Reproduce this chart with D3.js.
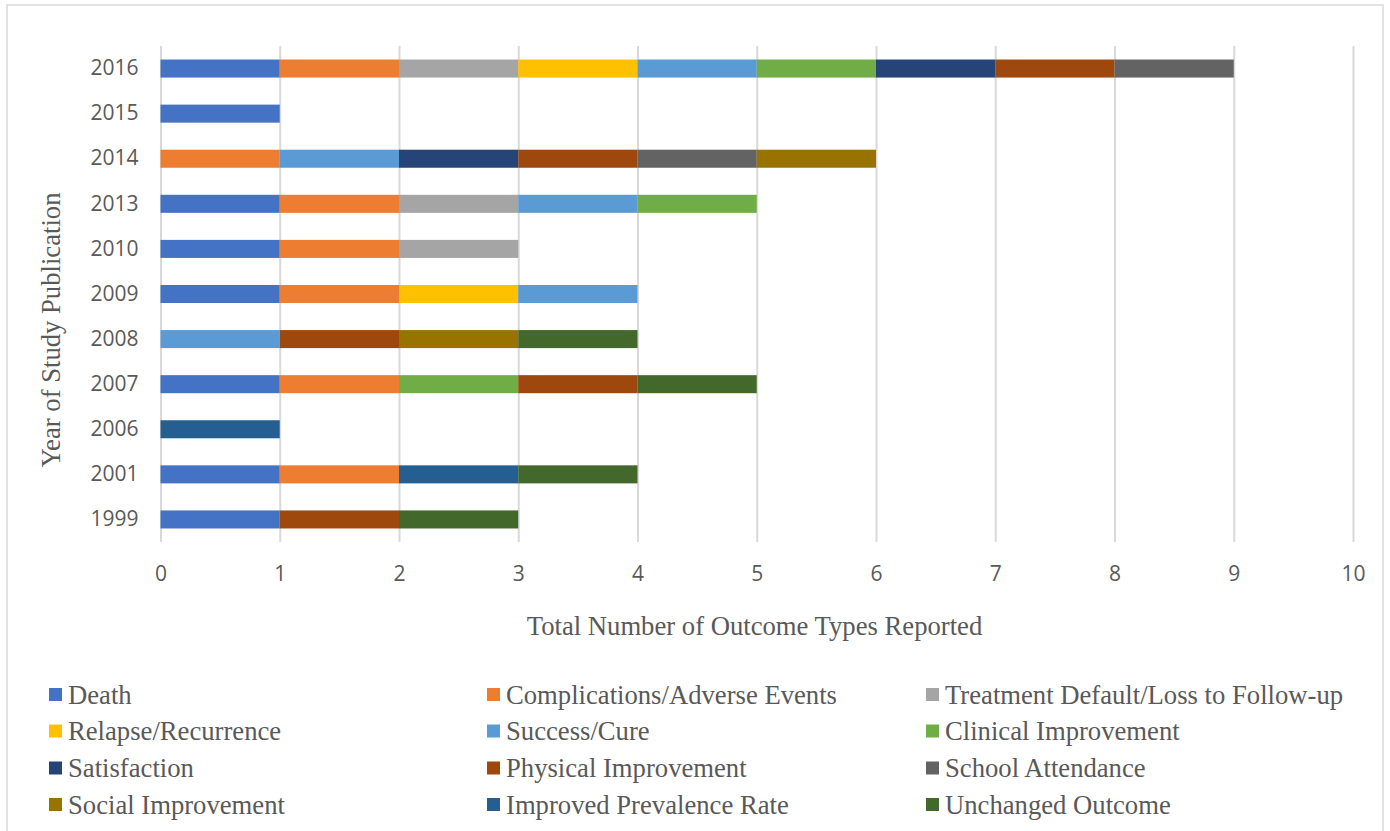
<!DOCTYPE html>
<html>
<head>
<meta charset="utf-8">
<script src="https://cdn.jsdelivr.net/npm/d3@7"></script>
<style>
  html, body { margin: 0; padding: 0; background: #fff; }
  svg { display: block; }
</style>
</head>
<body>
<svg id="chart" width="1390" height="831"></svg>
<script>
// ---- data ----
const years = ["2016", "2015", "2014", "2013", "2010", "2009", "2008", "2007", "2006", "2001", "1999"];
const seriesNames = [
  "Death", "Complications/Adverse Events", "Treatment Default/Loss to Follow-up",
  "Relapse/Recurrence", "Success/Cure", "Clinical Improvement",
  "Satisfaction", "Physical Improvement", "School Attendance",
  "Social Improvement", "Improved Prevalence Rate", "Unchanged Outcome"
];
const seriesColors = ["#4472C4", "#ED7D31", "#A5A5A5", "#FFC000", "#5B9BD5", "#70AD47",
                      "#264478", "#9E480E", "#636363", "#997300", "#255E91", "#43682B"];
//                     2016 2015 2014 2013 2010 2009 2008 2007 2006 2001 1999
const death         = [1, 1, 0, 1, 1, 1, 0, 1, 0, 1, 1];
const complications = [1, 0, 1, 1, 1, 1, 0, 1, 0, 1, 0];
const treatDefault  = [1, 0, 0, 1, 1, 0, 0, 0, 0, 0, 0];
const relapse       = [1, 0, 0, 0, 0, 1, 0, 0, 0, 0, 0];
const success       = [1, 0, 1, 1, 0, 1, 1, 0, 0, 0, 0];
const clinical      = [1, 0, 0, 1, 0, 0, 0, 1, 0, 0, 0];
const satisfaction  = [1, 0, 1, 0, 0, 0, 0, 0, 0, 0, 0];
const physical      = [1, 0, 1, 0, 0, 0, 1, 1, 0, 0, 1];
const school        = [1, 0, 1, 0, 0, 0, 0, 0, 0, 0, 0];
const social        = [0, 0, 1, 0, 0, 0, 1, 0, 0, 0, 0];
const improvedPrev  = [0, 0, 0, 0, 0, 0, 0, 0, 1, 1, 0];
const unchanged     = [0, 0, 0, 0, 0, 0, 1, 1, 0, 1, 1];
const seriesValues = [death, complications, treatDefault, relapse, success, clinical,
                      satisfaction, physical, school, social, improvedPrev, unchanged];
const xTicks = [0, 1, 2, 3, 4, 5, 6, 7, 8, 9, 10];
const xTitle = "Total Number of Outcome Types Reported";
const yTitle = "Year of Study Publication";

// ---- build table ----
const table = years.map((y, i) => {
  const row = { year: y };
  seriesNames.forEach((s, j) => { row[s] = seriesValues[j][i]; });
  return row;
});
const stacked = d3.stack().keys(seriesNames)(table);

const svg = d3.select("#chart");
const serif = "'Liberation Serif', 'Times New Roman', serif";
const sans = "'Open Sans', 'Liberation Sans', sans-serif";
const textColor = "#595959";

// outer border
svg.append("rect").attr("x", 7).attr("y", 5).attr("width", 1376).attr("height", 850)
  .attr("fill", "#fff").attr("stroke", "#d9d9d9").attr("stroke-width", 1.5);

const x = d3.scaleLinear().domain([0, 10]).range([160.5, 1353]);
const y = d3.scaleBand().domain(years).range([46, 542]).paddingInner(0.6).paddingOuter(0.3);

// gridlines
const xAxis = d3.axisBottom(x).tickValues(xTicks).tickSize(-(542 - 46)).tickFormat(d3.format("d"));
const gx = svg.append("g").attr("transform", "translate(0,542)").call(xAxis);
gx.select(".domain").remove();
gx.selectAll(".tick line").attr("stroke", "#d9d9d9").attr("stroke-width", 2);
gx.selectAll(".tick text").attr("fill", textColor).attr("font-family", sans)
  .attr("font-size", 21).attr("y", 39).attr("dy", 0);

// bars
svg.append("g").selectAll("g").data(stacked).join("g")
  .attr("fill", (d, i) => seriesColors[i])
  .selectAll("rect").data(d => d.filter(p => p[1] > p[0])).join("rect")
  .attr("x", d => x(d[0]))
  .attr("width", d => x(d[1]) - x(d[0]))
  .attr("y", d => y(d.data.year))
  .attr("height", y.bandwidth());

// y axis labels
const yAxis = d3.axisLeft(y).tickSize(0).tickPadding(22);
const gy = svg.append("g").attr("transform", "translate(160.5,0)").call(yAxis);
gy.select(".domain").remove();
gy.selectAll(".tick text").attr("fill", textColor).attr("font-family", sans).attr("font-size", 21);

// axis titles
svg.append("text").attr("x", 754.5).attr("y", 635).attr("text-anchor", "middle")
  .attr("font-family", serif).attr("font-size", 26.67).attr("fill", textColor).text(xTitle);
svg.append("text").attr("transform", "translate(60,330) rotate(-90)").attr("text-anchor", "middle")
  .attr("font-family", serif).attr("font-size", 26.67).attr("fill", textColor).text(yTitle);

// legend
const colX = [49, 487, 926];
const rowY = [694.5, 731, 768, 804.5];
const leg = svg.append("g").selectAll("g").data(seriesNames).join("g")
  .attr("transform", (d, i) => `translate(${colX[i % 3]},${rowY[Math.floor(i / 3)]})`);
leg.append("rect").attr("x", 0).attr("y", -6.5).attr("width", 13).attr("height", 13)
  .attr("fill", (d, i) => seriesColors[i]);
leg.append("text").attr("x", 19).attr("y", 9).attr("font-family", serif)
  .attr("font-size", 26.67).attr("fill", textColor).text(d => d);
</script>
</body>
</html>
